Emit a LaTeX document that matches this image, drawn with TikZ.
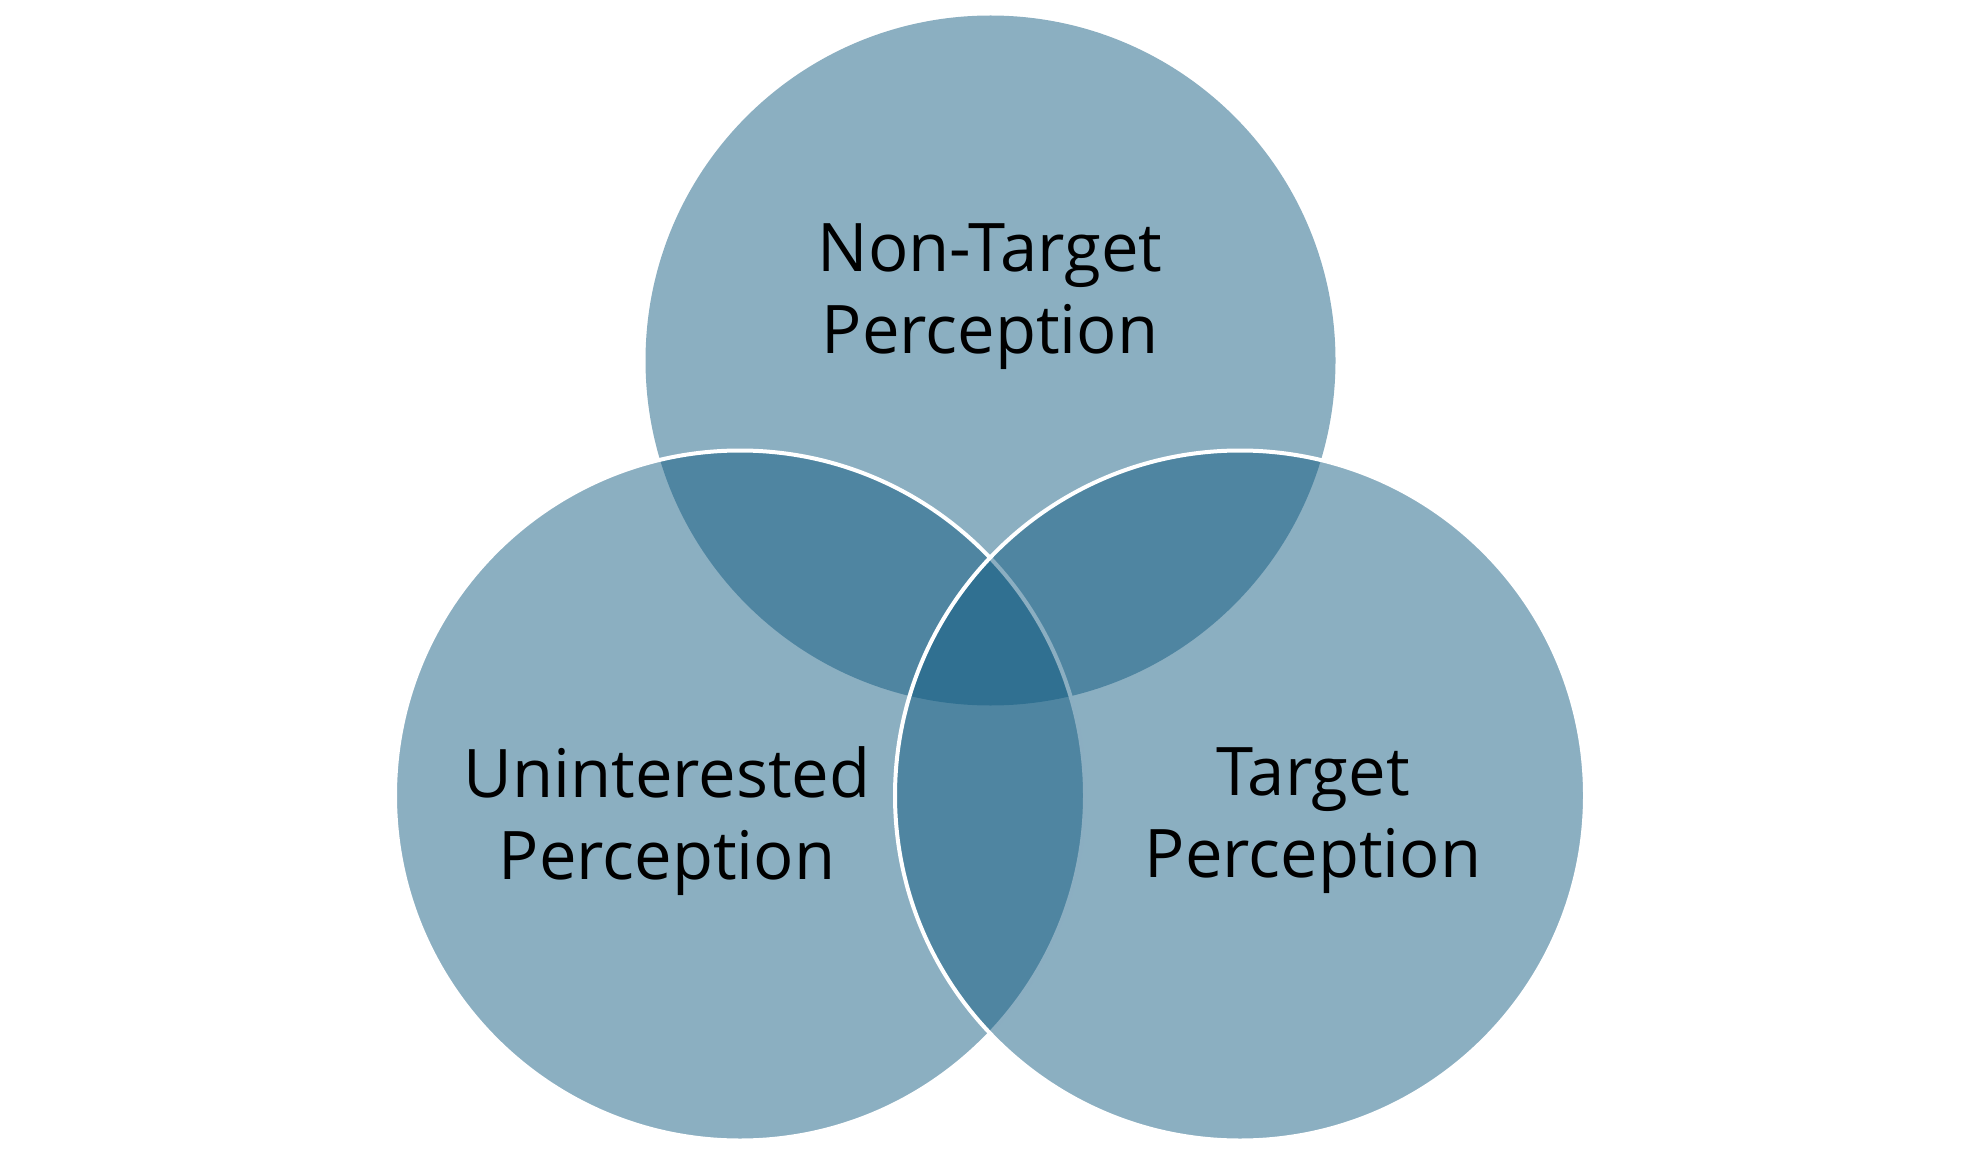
\documentclass[tikz,border=0pt]{standalone}
\usepackage{fontspec}
\setmainfont{Open Sans}
\definecolor{vennc}{RGB}{15,89,127}
\tikzset{
  venn/.style={circle, minimum size=690pt, inner sep=0pt, outer sep=0pt,
    fill=vennc, fill opacity=0.483, draw opacity=1, line width=4pt},
  lbl/.style={align=center, font=\fontsize{67}{82}\selectfont, text=black, inner sep=0pt}
}
\begin{document}
\begin{tikzpicture}[x=1pt,y=-1pt]
\useasboundingbox (0,0) rectangle (1980,1155);
\node[venn] (top) at (990.5,360.5) {};
\node[venn, draw=white] (left) at (740,795.5) {};
\node[venn, draw=white] (right) at (1240,795.5) {};
\node[lbl] (ttop) at (990,297) {Non-Target\\Perception};
\node[lbl] (tleft) at (667,821) {Uninterested\\Perception};
\node[lbl] (tright) at (1313,821) {Target\\Perception};
\end{tikzpicture}
\end{document}
